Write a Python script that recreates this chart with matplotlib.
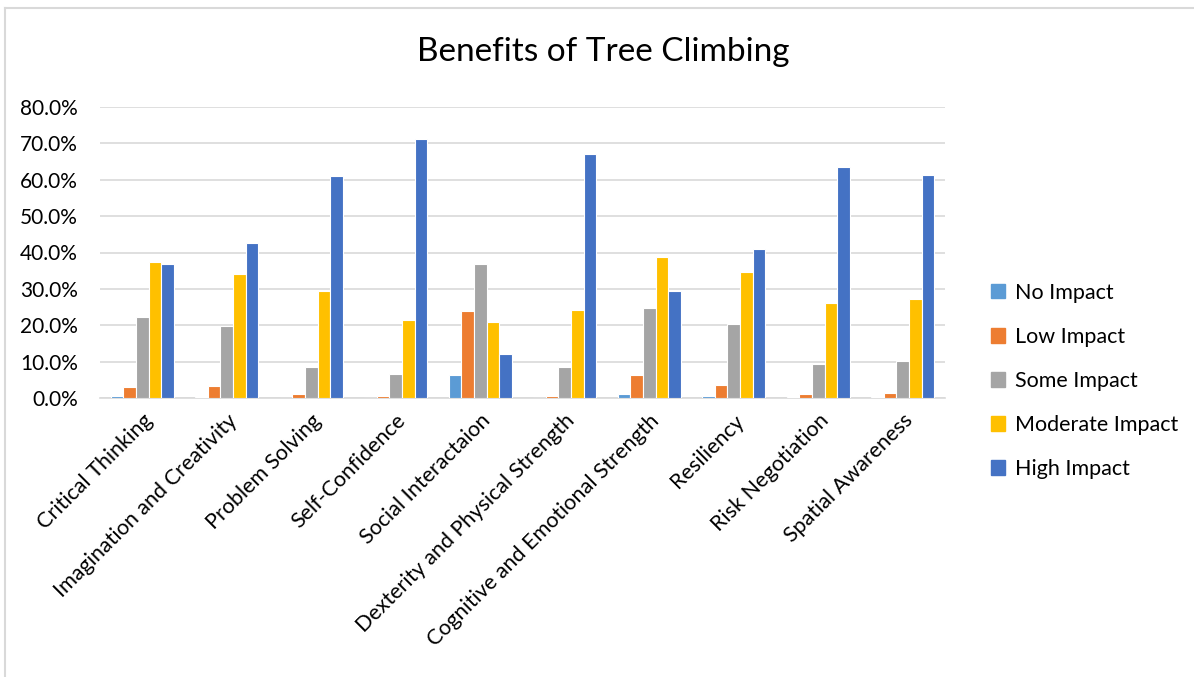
import matplotlib
matplotlib.use("Agg")
import matplotlib.pyplot as plt
import numpy as np
from matplotlib.ticker import FuncFormatter, MultipleLocator
from matplotlib.lines import Line2D

plt.rcParams['font.family'] = ['Lato', 'DejaVu Sans']

categories = ["Critical Thinking", "Imagination and Creativity", "Problem Solving",
              "Self-Confidence", "Social Interactaion", "Dexterity and Physical Strength",
              "Cognitive and Emotional Strength", "Resiliency", "Risk Negotiation",
              "Spatial Awareness"]

no_impact = [0.5, 0.4, 0.0, 0.0, 6.3, 0.0, 1.0, 0.6, 0.2, 0.3]
low_impact = [3.0, 3.4, 1.1, 0.5, 24.0, 0.5, 6.2, 3.6, 1.1, 1.3]
some_impact = [22.2, 19.7, 8.5, 6.7, 36.9, 8.4, 24.8, 20.3, 9.3, 10.1]
moderate_impact = [37.5, 34.2, 29.4, 21.5, 20.8, 24.2, 38.8, 34.7, 26.0, 27.1]
high_impact = [36.8, 42.5, 61.0, 71.3, 12.1, 67.1, 29.4, 41.0, 63.6, 61.3]

series = [
    ("No Impact", no_impact, "#5B9BD5"),
    ("Low Impact", low_impact, "#ED7D31"),
    ("Some Impact", some_impact, "#A5A5A5"),
    ("Moderate Impact", moderate_impact, "#FFC000"),
    ("High Impact", high_impact, "#4472C4"),
]

fig = plt.figure(figsize=(11.94, 6.77), dpi=100)
ax = fig.add_axes([100 / 1194, 1 - 398 / 677, 845 / 1194, 291 / 677])

x = np.arange(len(categories))
slot = 0.15
for i, (name, vals, color) in enumerate(series):
    ax.bar(x + (i - 2) * slot, np.array(vals) / 100, width=slot, color=color,
           edgecolor="white", linewidth=0.8, label=name, zorder=3)

ax.set_xlim(-0.5, len(categories) - 0.5)
ax.set_ylim(0, 0.8)
ax.yaxis.set_major_locator(MultipleLocator(0.1))
ax.yaxis.set_major_formatter(FuncFormatter(lambda v, p: f"{v * 100:.1f}%"))
ax.grid(axis="y", color="#D9D9D9", linewidth=1.2, zorder=0)
for s in ["top", "right", "left"]:
    ax.spines[s].set_visible(False)
ax.spines["bottom"].set_color("#D9D9D9")
ax.spines["bottom"].set_linewidth(1.2)
ax.tick_params(axis="x", length=0, labelsize=15.5, colors="black", pad=9)
ax.tick_params(axis="y", length=0, labelsize=15, colors="black", pad=16)
ax.set_xticks(x)
ax.set_xticklabels(categories, rotation=45, ha="right", rotation_mode="anchor")

fig.text(603 / 1194, 1 - 52 / 677, "Benefits of Tree Climbing", ha="center", va="center",
         fontsize=24)

handles = [plt.Rectangle((0, 0), 1, 1, color=c) for _, _, c in series]
fig.legend(handles, [n for n, _, _ in series], loc="center left",
           bbox_to_anchor=(972 / 1194, 1 - 381 / 677), frameon=False, fontsize=15.5,
           handlelength=0.65, handleheight=0.65, handletextpad=0.45, labelspacing=1.12)

# outer chart border
fig.add_artist(Line2D([5 / 1194, 5 / 1194], [0, 1 - 8 / 677], color="#D9D9D9", lw=1.5,
                      transform=fig.transFigure))
fig.add_artist(Line2D([5 / 1194, 1], [1 - 8 / 677, 1 - 8 / 677], color="#D9D9D9", lw=1.5,
                      transform=fig.transFigure))

fig.savefig("out.png", dpi=100)
